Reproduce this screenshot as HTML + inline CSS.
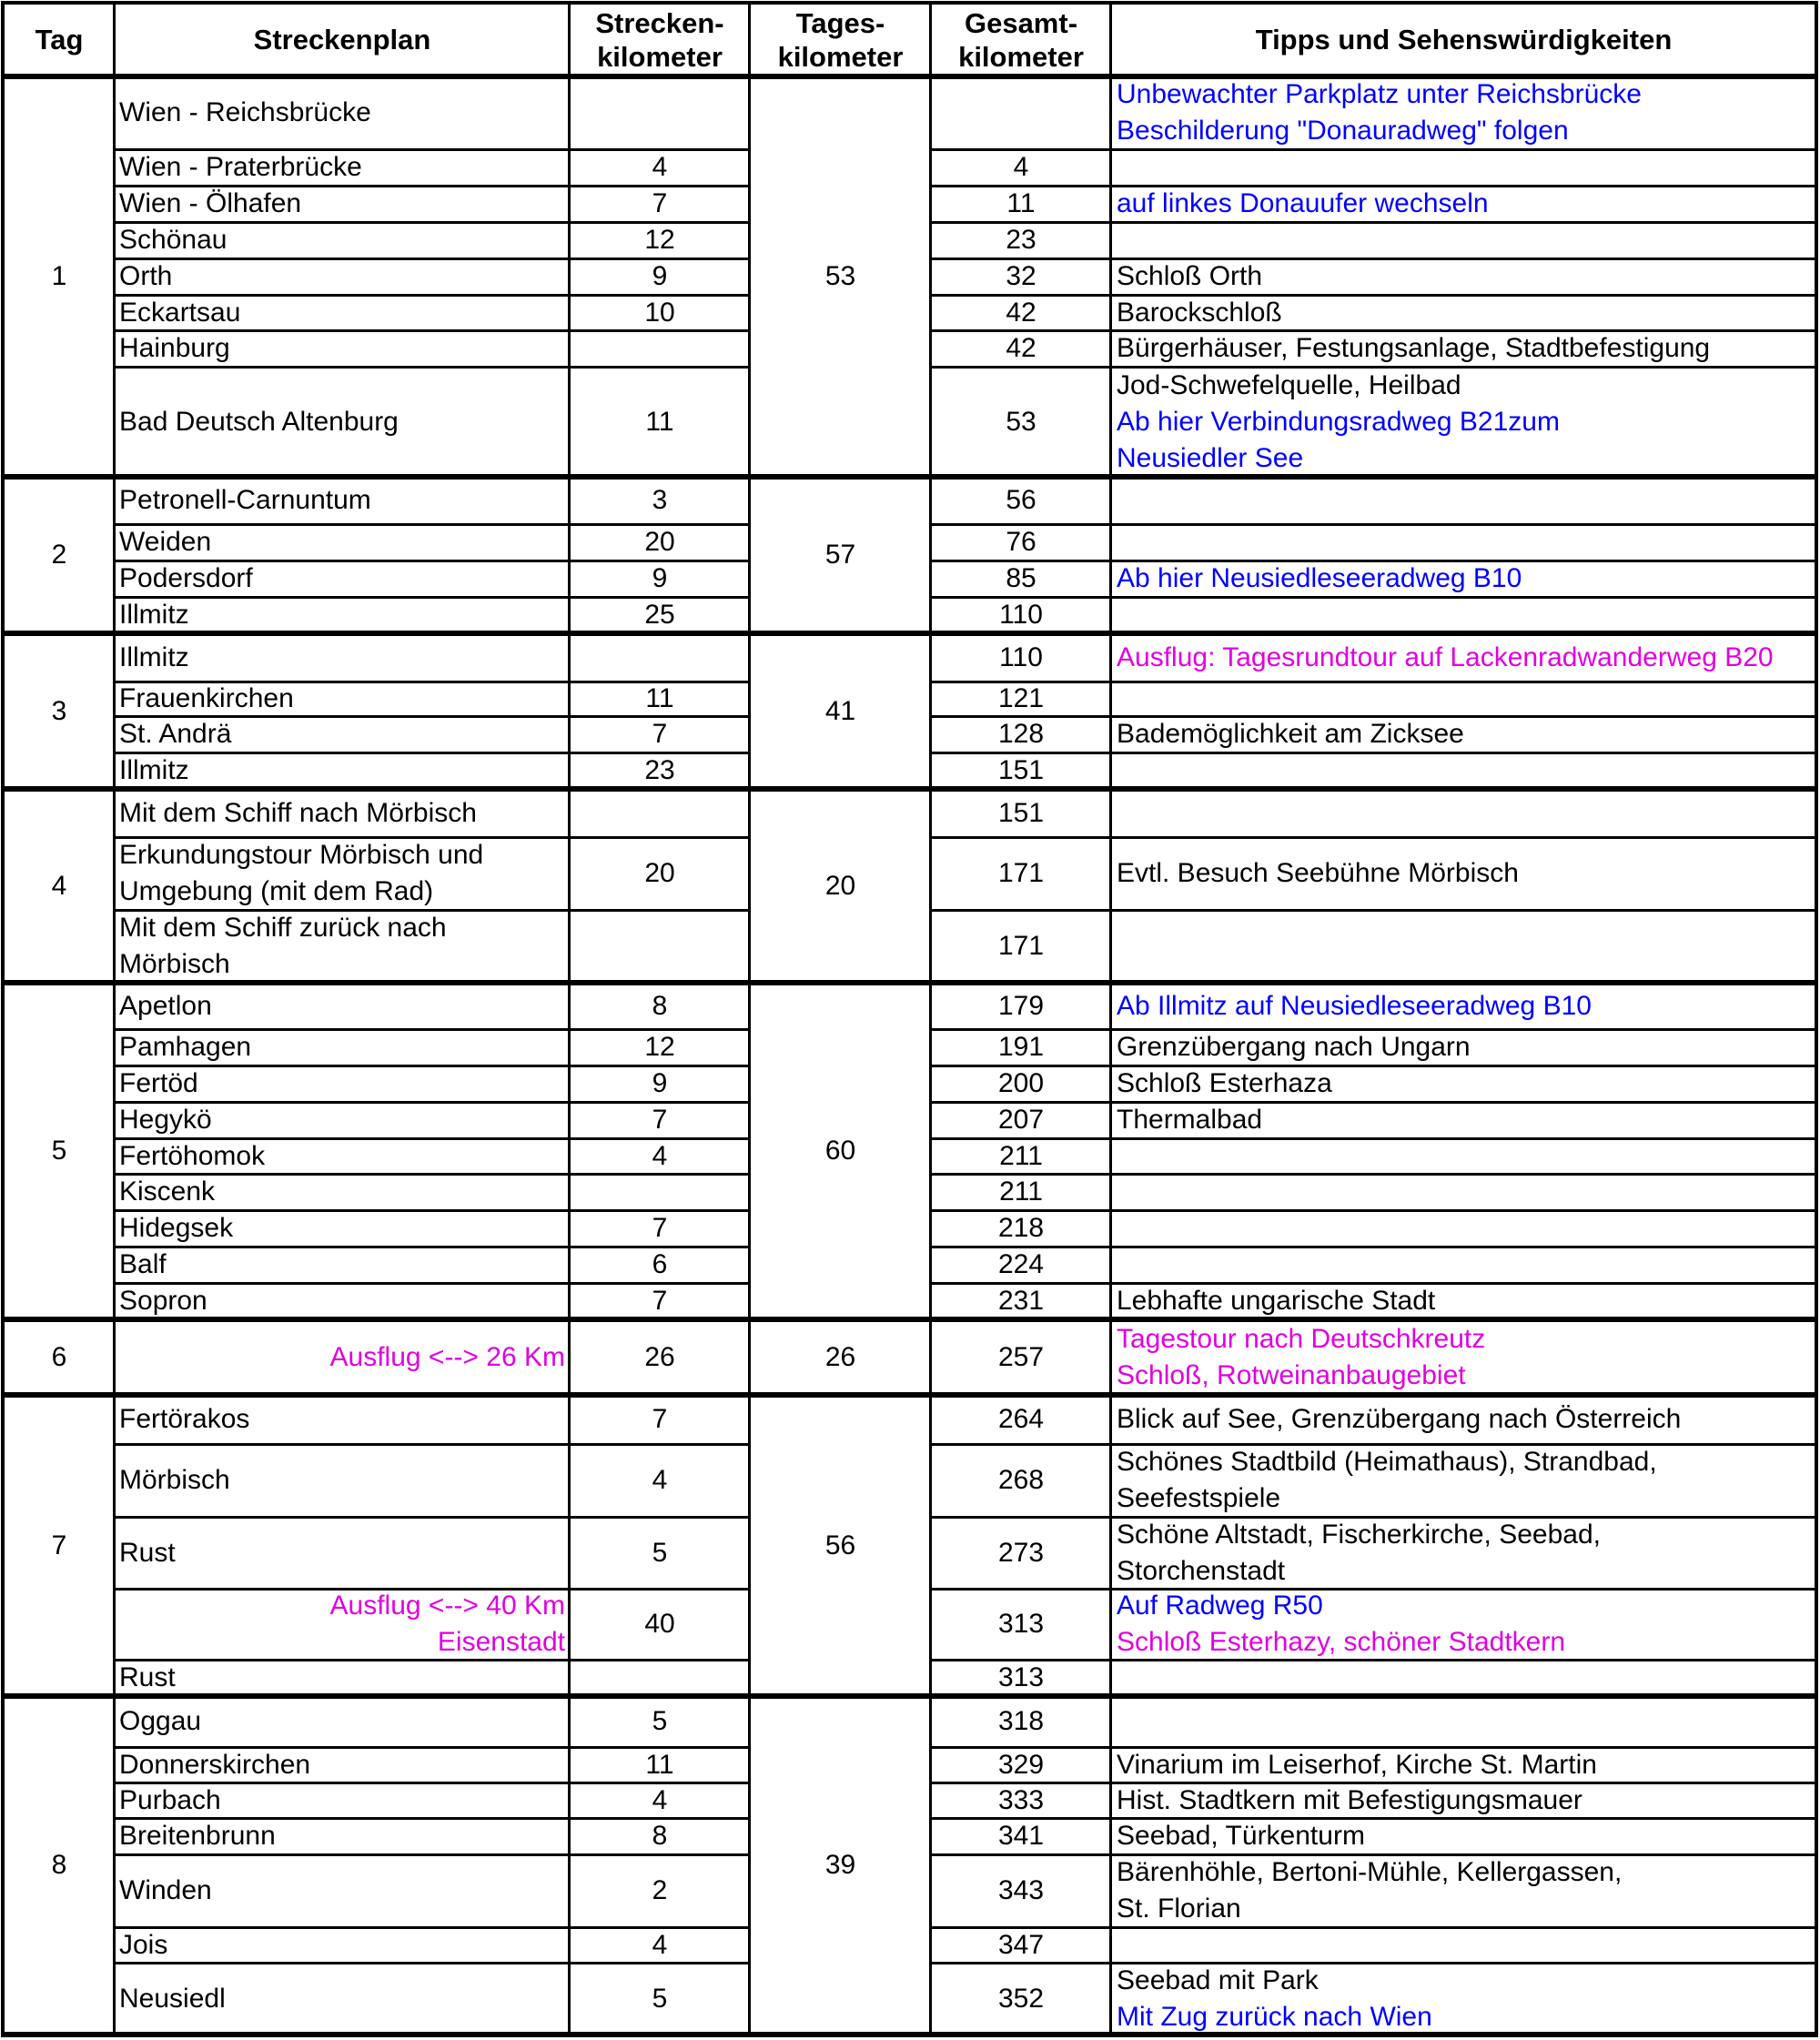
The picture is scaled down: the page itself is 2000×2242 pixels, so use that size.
<!DOCTYPE html>
<html><head><meta charset="utf-8"><style>
body{margin:0;background:#fff;width:2000px;height:2242px;position:relative;overflow:hidden;font-family:"Liberation Sans",Arial,sans-serif;font-size:30px;color:#000}
.l{position:absolute;background:#000}
.r{position:absolute;left:0;width:2000px}
.r>div{position:absolute;top:0;height:100%;display:flex;align-items:center;line-height:40px}
.a{left:131px;width:490px}
.ar{justify-content:flex-end;text-align:right}
.b{left:626px;width:198px;justify-content:center}
.d{left:1023px;width:198px;justify-content:center}
.e{left:1227px;width:765px;white-space:nowrap}
.g{position:absolute;display:flex;align-items:center;justify-content:center}
.t{left:4px;width:122px}
.c{left:824px;width:199px}
.hd{font-weight:bold;font-size:31px;text-align:center;line-height:37px;position:absolute;top:3px;height:81px;display:flex;align-items:center;justify-content:center}
.bl{color:#0000ff}.m{color:#e000e0}
</style></head><body>
<div class="hd" style="left:4px;width:122px">Tag</div>
<div class="hd" style="left:126px;width:500px">Streckenplan</div>
<div class="hd" style="left:626px;width:198px">Strecken-<br>kilometer</div>
<div class="hd" style="left:824px;width:199px">Tages-<br>kilometer</div>
<div class="hd" style="left:1023px;width:198px">Gesamt-<br>kilometer</div>
<div class="hd" style="left:1221px;width:775px">Tipps und Sehenswürdigkeiten</div>

<div class="g t" style="top:84px;height:440px">1</div>
<div class="g c" style="top:84px;height:440px">53</div>
<div class="r" style="top:84px;height:80px"><div class="a">Wien - Reichsbrücke</div><div class="b"></div><div class="d"></div><div class="e bl"><div>Unbewachter Parkplatz unter Reichsbrücke<br>Beschilderung "Donauradweg" folgen</div></div></div>
<div class="r" style="top:164px;height:40px"><div class="a">Wien - Praterbrücke</div><div class="b">4</div><div class="d">4</div><div class="e"></div></div>
<div class="r" style="top:204px;height:40px"><div class="a">Wien - Ölhafen</div><div class="b">7</div><div class="d">11</div><div class="e bl">auf linkes Donauufer wechseln</div></div>
<div class="r" style="top:244px;height:40px"><div class="a">Schönau</div><div class="b">12</div><div class="d">23</div><div class="e"></div></div>
<div class="r" style="top:284px;height:40px"><div class="a">Orth</div><div class="b">9</div><div class="d">32</div><div class="e">Schloß Orth</div></div>
<div class="r" style="top:324px;height:39px"><div class="a">Eckartsau</div><div class="b">10</div><div class="d">42</div><div class="e">Barockschloß</div></div>
<div class="r" style="top:363px;height:40px"><div class="a">Hainburg</div><div class="b"></div><div class="d">42</div><div class="e">Bürgerhäuser, Festungsanlage, Stadtbefestigung</div></div>
<div class="r" style="top:403px;height:121px"><div class="a">Bad Deutsch Altenburg</div><div class="b">11</div><div class="d">53</div><div class="e"><div>Jod-Schwefelquelle, Heilbad<br><span class="bl">Ab hier Verbindungsradweg B21zum<br>Neusiedler See</span></div></div></div>

<div class="g t" style="top:524px;height:172px">2</div>
<div class="g c" style="top:524px;height:172px">57</div>
<div class="r" style="top:524px;height:52px"><div class="a">Petronell-Carnuntum</div><div class="b">3</div><div class="d">56</div><div class="e"></div></div>
<div class="r" style="top:576px;height:40px"><div class="a">Weiden</div><div class="b">20</div><div class="d">76</div><div class="e"></div></div>
<div class="r" style="top:616px;height:40px"><div class="a">Podersdorf</div><div class="b">9</div><div class="d">85</div><div class="e bl">Ab hier Neusiedleseeradweg B10</div></div>
<div class="r" style="top:656px;height:40px"><div class="a">Illmitz</div><div class="b">25</div><div class="d">110</div><div class="e"></div></div>

<div class="g t" style="top:696px;height:171px">3</div>
<div class="g c" style="top:696px;height:171px">41</div>
<div class="r" style="top:696px;height:53px"><div class="a">Illmitz</div><div class="b"></div><div class="d">110</div><div class="e m">Ausflug: Tagesrundtour auf Lackenradwanderweg B20</div></div>
<div class="r" style="top:749px;height:38px"><div class="a">Frauenkirchen</div><div class="b">11</div><div class="d">121</div><div class="e"></div></div>
<div class="r" style="top:787px;height:40px"><div class="a">St. Andrä</div><div class="b">7</div><div class="d">128</div><div class="e">Bademöglichkeit am Zicksee</div></div>
<div class="r" style="top:827px;height:40px"><div class="a">Illmitz</div><div class="b">23</div><div class="d">151</div><div class="e"></div></div>

<div class="g t" style="top:867px;height:213px">4</div>
<div class="g c" style="top:867px;height:213px">20</div>
<div class="r" style="top:867px;height:53px"><div class="a">Mit dem Schiff nach Mörbisch</div><div class="b"></div><div class="d">151</div><div class="e"></div></div>
<div class="r" style="top:920px;height:80px"><div class="a"><div>Erkundungstour Mörbisch und<br>Umgebung (mit dem Rad)</div></div><div class="b">20</div><div class="d">171</div><div class="e">Evtl. Besuch Seebühne Mörbisch</div></div>
<div class="r" style="top:1000px;height:80px"><div class="a"><div>Mit dem Schiff zurück nach<br>Mörbisch</div></div><div class="b"></div><div class="d">171</div><div class="e"></div></div>

<div class="g t" style="top:1080px;height:370px">5</div>
<div class="g c" style="top:1080px;height:370px">60</div>
<div class="r" style="top:1080px;height:51px"><div class="a">Apetlon</div><div class="b">8</div><div class="d">179</div><div class="e bl">Ab Illmitz auf Neusiedleseeradweg B10</div></div>
<div class="r" style="top:1131px;height:40px"><div class="a">Pamhagen</div><div class="b">12</div><div class="d">191</div><div class="e">Grenzübergang nach Ungarn</div></div>
<div class="r" style="top:1171px;height:40px"><div class="a">Fertöd</div><div class="b">9</div><div class="d">200</div><div class="e">Schloß Esterhaza</div></div>
<div class="r" style="top:1211px;height:40px"><div class="a">Hegykö</div><div class="b">7</div><div class="d">207</div><div class="e">Thermalbad</div></div>
<div class="r" style="top:1251px;height:39px"><div class="a">Fertöhomok</div><div class="b">4</div><div class="d">211</div><div class="e"></div></div>
<div class="r" style="top:1290px;height:40px"><div class="a">Kiscenk</div><div class="b"></div><div class="d">211</div><div class="e"></div></div>
<div class="r" style="top:1330px;height:40px"><div class="a">Hidegsek</div><div class="b">7</div><div class="d">218</div><div class="e"></div></div>
<div class="r" style="top:1370px;height:40px"><div class="a">Balf</div><div class="b">6</div><div class="d">224</div><div class="e"></div></div>
<div class="r" style="top:1410px;height:40px"><div class="a">Sopron</div><div class="b">7</div><div class="d">231</div><div class="e">Lebhafte ungarische Stadt</div></div>

<div class="g t" style="top:1450px;height:83px">6</div>
<div class="g c" style="top:1450px;height:83px">26</div>
<div class="r" style="top:1450px;height:83px"><div class="a ar m">Ausflug &lt;--&gt; 26 Km</div><div class="b">26</div><div class="d">257</div><div class="e m"><div>Tagestour nach Deutschkreutz<br>Schloß, Rotweinanbaugebiet</div></div></div>

<div class="g t" style="top:1533px;height:331px">7</div>
<div class="g c" style="top:1533px;height:331px">56</div>
<div class="r" style="top:1533px;height:54px"><div class="a">Fertörakos</div><div class="b">7</div><div class="d">264</div><div class="e">Blick auf See, Grenzübergang nach Österreich</div></div>
<div class="r" style="top:1587px;height:80px"><div class="a">Mörbisch</div><div class="b">4</div><div class="d">268</div><div class="e"><div>Schönes Stadtbild (Heimathaus), Strandbad,<br>Seefestspiele</div></div></div>
<div class="r" style="top:1667px;height:79px"><div class="a">Rust</div><div class="b">5</div><div class="d">273</div><div class="e"><div>Schöne Altstadt, Fischerkirche, Seebad,<br>Storchenstadt</div></div></div>
<div class="r" style="top:1746px;height:78px"><div class="a ar m"><div>Ausflug &lt;--&gt; 40 Km<br>Eisenstadt</div></div><div class="b">40</div><div class="d">313</div><div class="e"><div><span class="bl">Auf Radweg R50</span><br><span class="m">Schloß Esterhazy, schöner Stadtkern</span></div></div></div>
<div class="r" style="top:1824px;height:40px"><div class="a">Rust</div><div class="b"></div><div class="d">313</div><div class="e"></div></div>

<div class="g t" style="top:1864px;height:372px">8</div>
<div class="g c" style="top:1864px;height:372px">39</div>
<div class="r" style="top:1864px;height:56px"><div class="a">Oggau</div><div class="b">5</div><div class="d">318</div><div class="e"></div></div>
<div class="r" style="top:1920px;height:39px"><div class="a">Donnerskirchen</div><div class="b">11</div><div class="d">329</div><div class="e">Vinarium im Leiserhof, Kirche St. Martin</div></div>
<div class="r" style="top:1959px;height:39px"><div class="a">Purbach</div><div class="b">4</div><div class="d">333</div><div class="e">Hist. Stadtkern mit Befestigungsmauer</div></div>
<div class="r" style="top:1998px;height:40px"><div class="a">Breitenbrunn</div><div class="b">8</div><div class="d">341</div><div class="e">Seebad, Türkenturm</div></div>
<div class="r" style="top:2038px;height:80px"><div class="a">Winden</div><div class="b">2</div><div class="d">343</div><div class="e"><div>Bärenhöhle, Bertoni-Mühle, Kellergassen,<br>St. Florian</div></div></div>
<div class="r" style="top:2118px;height:39px"><div class="a">Jois</div><div class="b">4</div><div class="d">347</div><div class="e"></div></div>
<div class="r" style="top:2157px;height:79px"><div class="a">Neusiedl</div><div class="b">5</div><div class="d">352</div><div class="e"><div>Seebad mit Park<br><span class="bl">Mit Zug zurück nach Wien</span></div></div></div>

<div class="l" style="left:1px;top:1px;width:4px;height:2238px"></div>
<div class="l" style="left:124px;top:1px;width:3px;height:2238px"></div>
<div class="l" style="left:624px;top:1px;width:3px;height:2238px"></div>
<div class="l" style="left:822px;top:1px;width:3px;height:2238px"></div>
<div class="l" style="left:1021px;top:1px;width:3px;height:2238px"></div>
<div class="l" style="left:1219px;top:1px;width:3px;height:2238px"></div>
<div class="l" style="left:1994px;top:1px;width:4px;height:2238px"></div>

<div class="l" style="left:1px;top:1px;width:1997px;height:4px"></div>
<div class="l" style="left:1px;top:81px;width:1997px;height:6px"></div>
<div class="l" style="left:1px;top:521px;width:1997px;height:6px"></div>
<div class="l" style="left:1px;top:693px;width:1997px;height:6px"></div>
<div class="l" style="left:1px;top:864px;width:1997px;height:6px"></div>
<div class="l" style="left:1px;top:1077px;width:1997px;height:6px"></div>
<div class="l" style="left:1px;top:1447px;width:1997px;height:6px"></div>
<div class="l" style="left:1px;top:1530px;width:1997px;height:6px"></div>
<div class="l" style="left:1px;top:1861px;width:1997px;height:6px"></div>
<div class="l" style="left:1px;top:2233px;width:1997px;height:6px"></div>

<div style="position:absolute;left:124px;top:0;width:701px;height:2242px">
<div class="l" style="left:0;width:701px;top:163px;height:3px"></div>
<div class="l" style="left:0;width:701px;top:203px;height:3px"></div>
<div class="l" style="left:0;width:701px;top:243px;height:3px"></div>
<div class="l" style="left:0;width:701px;top:283px;height:3px"></div>
<div class="l" style="left:0;width:701px;top:323px;height:3px"></div>
<div class="l" style="left:0;width:701px;top:362px;height:3px"></div>
<div class="l" style="left:0;width:701px;top:402px;height:3px"></div>
<div class="l" style="left:0;width:701px;top:575px;height:3px"></div>
<div class="l" style="left:0;width:701px;top:615px;height:3px"></div>
<div class="l" style="left:0;width:701px;top:655px;height:3px"></div>
<div class="l" style="left:0;width:701px;top:748px;height:3px"></div>
<div class="l" style="left:0;width:701px;top:786px;height:3px"></div>
<div class="l" style="left:0;width:701px;top:826px;height:3px"></div>
<div class="l" style="left:0;width:701px;top:919px;height:3px"></div>
<div class="l" style="left:0;width:701px;top:999px;height:3px"></div>
<div class="l" style="left:0;width:701px;top:1130px;height:3px"></div>
<div class="l" style="left:0;width:701px;top:1170px;height:3px"></div>
<div class="l" style="left:0;width:701px;top:1210px;height:3px"></div>
<div class="l" style="left:0;width:701px;top:1250px;height:3px"></div>
<div class="l" style="left:0;width:701px;top:1289px;height:3px"></div>
<div class="l" style="left:0;width:701px;top:1329px;height:3px"></div>
<div class="l" style="left:0;width:701px;top:1369px;height:3px"></div>
<div class="l" style="left:0;width:701px;top:1409px;height:3px"></div>
<div class="l" style="left:0;width:701px;top:1586px;height:3px"></div>
<div class="l" style="left:0;width:701px;top:1666px;height:3px"></div>
<div class="l" style="left:0;width:701px;top:1745px;height:3px"></div>
<div class="l" style="left:0;width:701px;top:1823px;height:3px"></div>
<div class="l" style="left:0;width:701px;top:1919px;height:3px"></div>
<div class="l" style="left:0;width:701px;top:1958px;height:3px"></div>
<div class="l" style="left:0;width:701px;top:1997px;height:3px"></div>
<div class="l" style="left:0;width:701px;top:2037px;height:3px"></div>
<div class="l" style="left:0;width:701px;top:2117px;height:3px"></div>
<div class="l" style="left:0;width:701px;top:2156px;height:3px"></div>
</div>
<div style="position:absolute;left:1021px;top:0;width:977px;height:2242px">
<div class="l" style="left:0;width:977px;top:163px;height:3px"></div>
<div class="l" style="left:0;width:977px;top:203px;height:3px"></div>
<div class="l" style="left:0;width:977px;top:243px;height:3px"></div>
<div class="l" style="left:0;width:977px;top:283px;height:3px"></div>
<div class="l" style="left:0;width:977px;top:323px;height:3px"></div>
<div class="l" style="left:0;width:977px;top:362px;height:3px"></div>
<div class="l" style="left:0;width:977px;top:402px;height:3px"></div>
<div class="l" style="left:0;width:977px;top:575px;height:3px"></div>
<div class="l" style="left:0;width:977px;top:615px;height:3px"></div>
<div class="l" style="left:0;width:977px;top:655px;height:3px"></div>
<div class="l" style="left:0;width:977px;top:748px;height:3px"></div>
<div class="l" style="left:0;width:977px;top:786px;height:3px"></div>
<div class="l" style="left:0;width:977px;top:826px;height:3px"></div>
<div class="l" style="left:0;width:977px;top:919px;height:3px"></div>
<div class="l" style="left:0;width:977px;top:999px;height:3px"></div>
<div class="l" style="left:0;width:977px;top:1130px;height:3px"></div>
<div class="l" style="left:0;width:977px;top:1170px;height:3px"></div>
<div class="l" style="left:0;width:977px;top:1210px;height:3px"></div>
<div class="l" style="left:0;width:977px;top:1250px;height:3px"></div>
<div class="l" style="left:0;width:977px;top:1289px;height:3px"></div>
<div class="l" style="left:0;width:977px;top:1329px;height:3px"></div>
<div class="l" style="left:0;width:977px;top:1369px;height:3px"></div>
<div class="l" style="left:0;width:977px;top:1409px;height:3px"></div>
<div class="l" style="left:0;width:977px;top:1586px;height:3px"></div>
<div class="l" style="left:0;width:977px;top:1666px;height:3px"></div>
<div class="l" style="left:0;width:977px;top:1745px;height:3px"></div>
<div class="l" style="left:0;width:977px;top:1823px;height:3px"></div>
<div class="l" style="left:0;width:977px;top:1919px;height:3px"></div>
<div class="l" style="left:0;width:977px;top:1958px;height:3px"></div>
<div class="l" style="left:0;width:977px;top:1997px;height:3px"></div>
<div class="l" style="left:0;width:977px;top:2037px;height:3px"></div>
<div class="l" style="left:0;width:977px;top:2117px;height:3px"></div>
<div class="l" style="left:0;width:977px;top:2156px;height:3px"></div>
</div>
</body></html>
